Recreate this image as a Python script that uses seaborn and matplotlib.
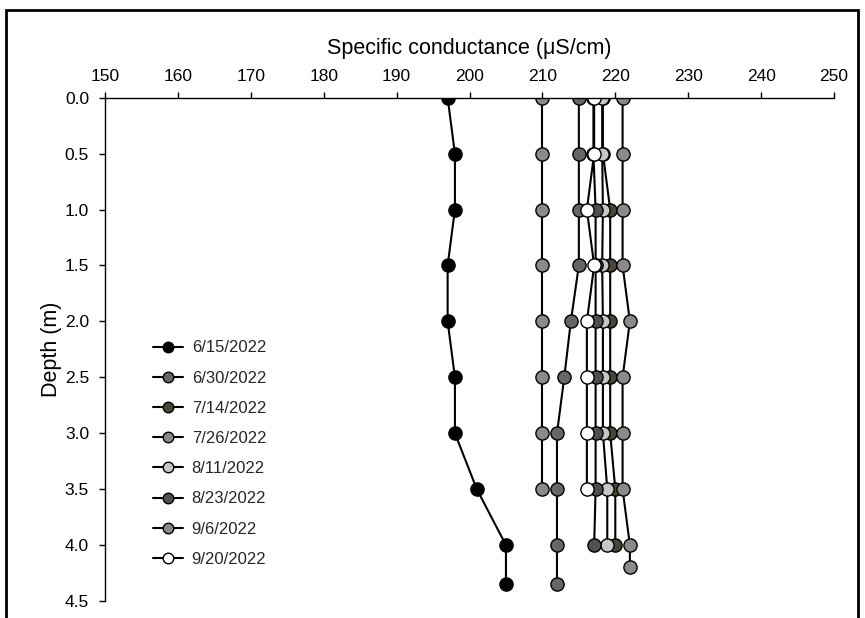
import matplotlib
matplotlib.use("Agg")
import matplotlib.pyplot as plt
from matplotlib.patches import Rectangle
from matplotlib.ticker import FormatStrFormatter
import seaborn as sns

# Sampling dates and marker fill colours
dates = ["6/15/2022", "6/30/2022", "7/14/2022", "7/26/2022",
         "8/11/2022", "8/23/2022", "9/6/2022", "9/20/2022"]
face_colors = ["#000000", "#666666", "#4a4535", "#8a8a8a",
               "#c6c6c6", "#505050", "#8a8a8a", "#ffffff"]

# Depth profiles (m) and specific conductance (uS/cm)
depth_0615 = [0.0, 0.5, 1.0, 1.5, 2.0, 2.5, 3.0, 3.5, 4.0, 4.35]
sc_0615 = [197, 198, 198, 197, 197, 198, 198, 201, 205, 205]

depth_0630 = [0.0, 0.5, 1.0, 1.5, 2.0, 2.5, 3.0, 3.5, 4.0, 4.35]
sc_0630 = [215, 215, 215, 215, 213.9, 213, 212, 212, 212, 212]

depth_0714 = [0.0, 0.5, 1.0, 1.5, 2.0, 2.5, 3.0, 3.5, 4.0]
sc_0714 = [218.3, 218.3, 219.3, 219.3, 219.3, 219.3, 219.3, 220, 220]

depth_0726 = [0.0, 0.5, 1.0, 1.5, 2.0, 2.5, 3.0, 3.5]
sc_0726 = [210, 210, 210, 210, 210, 210, 210, 210]

depth_0811 = [0.0, 0.5, 1.0, 1.5, 2.0, 2.5, 3.0, 3.5, 4.0]
sc_0811 = [218.2, 218.2, 218.3, 218.2, 218.3, 218.3, 218.3, 218.9, 218.9]

depth_0823 = [0.0, 0.5, 1.0, 1.5, 2.0, 2.5, 3.0, 3.5, 4.0]
sc_0823 = [217, 217, 217.3, 217.3, 217.3, 217.3, 217.3, 217.3, 217.1]

depth_0906 = [0.0, 0.5, 1.0, 1.5, 2.0, 2.5, 3.0, 3.5, 4.0, 4.2]
sc_0906 = [221, 221, 221, 221, 222, 221, 221, 221, 222, 222]

depth_0920 = [0.0, 0.5, 1.0, 1.5, 2.0, 2.5, 3.0, 3.5]
sc_0920 = [217.1, 217.1, 216.1, 217.1, 216.1, 216.1, 216.1, 216.1]

profiles = [(sc_0615, depth_0615), (sc_0630, depth_0630), (sc_0714, depth_0714),
            (sc_0726, depth_0726), (sc_0811, depth_0811), (sc_0823, depth_0823),
            (sc_0906, depth_0906), (sc_0920, depth_0920)]

x_ticks = [150, 160, 170, 180, 190, 200, 210, 220, 230, 240, 250]
y_ticks = [0.0, 0.5, 1.0, 1.5, 2.0, 2.5, 3.0, 3.5, 4.0, 4.5]

sns.set_theme(style="white")
plt.rcParams["font.family"] = ["Liberation Sans", "DejaVu Sans"]

fig = plt.figure(figsize=(8.65, 6.18), dpi=100)
ax = fig.add_axes([105 / 865, 1 - 601 / 618, (834 - 105) / 865, (601 - 97.7) / 618])

for (sc, depth), label, fc in zip(profiles, dates, face_colors):
    sns.lineplot(x=sc, y=depth, orient="y", sort=False, estimator=None,
                 errorbar=None, color="black", linewidth=1.5, marker="o",
                 markersize=9.5, markerfacecolor=fc, markeredgecolor="black",
                 markeredgewidth=1.0, label=label, legend=False, ax=ax)

ax.set_xlim(150, 250)
ax.set_ylim(4.5, 0)
ax.set_xticks(x_ticks)
ax.set_yticks(y_ticks)
ax.yaxis.set_major_formatter(FormatStrFormatter("%.1f"))

ax.xaxis.tick_top()
ax.xaxis.set_label_position("top")
for side in ("bottom", "right"):
    ax.spines[side].set_visible(False)
for side in ("top", "left"):
    ax.spines[side].set_color("black")
    ax.spines[side].set_linewidth(1.0)

ax.tick_params(axis="x", direction="out", length=4, width=1, colors="black",
               labelsize=12.5, pad=6, top=True, bottom=False)
ax.tick_params(axis="y", direction="out", length=4, width=1, colors="black",
               labelsize=12.5, pad=7.5, left=True)

ax.set_xlabel("Specific conductance (μS/cm)", fontsize=15.5, color="black", labelpad=11)
ax.set_ylabel("Depth (m)", fontsize=15.5, color="black", labelpad=2)

handles, labels = ax.get_legend_handles_labels()
ax.legend(handles, labels, loc="upper left",
          bbox_to_anchor=(152.7 / 865, 1 - 340.5 / 618),
          bbox_transform=fig.transFigure, frameon=False, fontsize=12,
          handlelength=1.8, handletextpad=0.54, labelspacing=0.91,
          markerscale=0.8, borderpad=0, borderaxespad=0)

# Outer frame around the figure
fig.patches.append(Rectangle((6 / 865, -0.05), (858 - 6) / 865, 1.05 - 10 / 618,
                             transform=fig.transFigure, fill=False,
                             edgecolor="black", linewidth=2.0, clip_on=False))

fig.savefig("out.png", dpi=100)
